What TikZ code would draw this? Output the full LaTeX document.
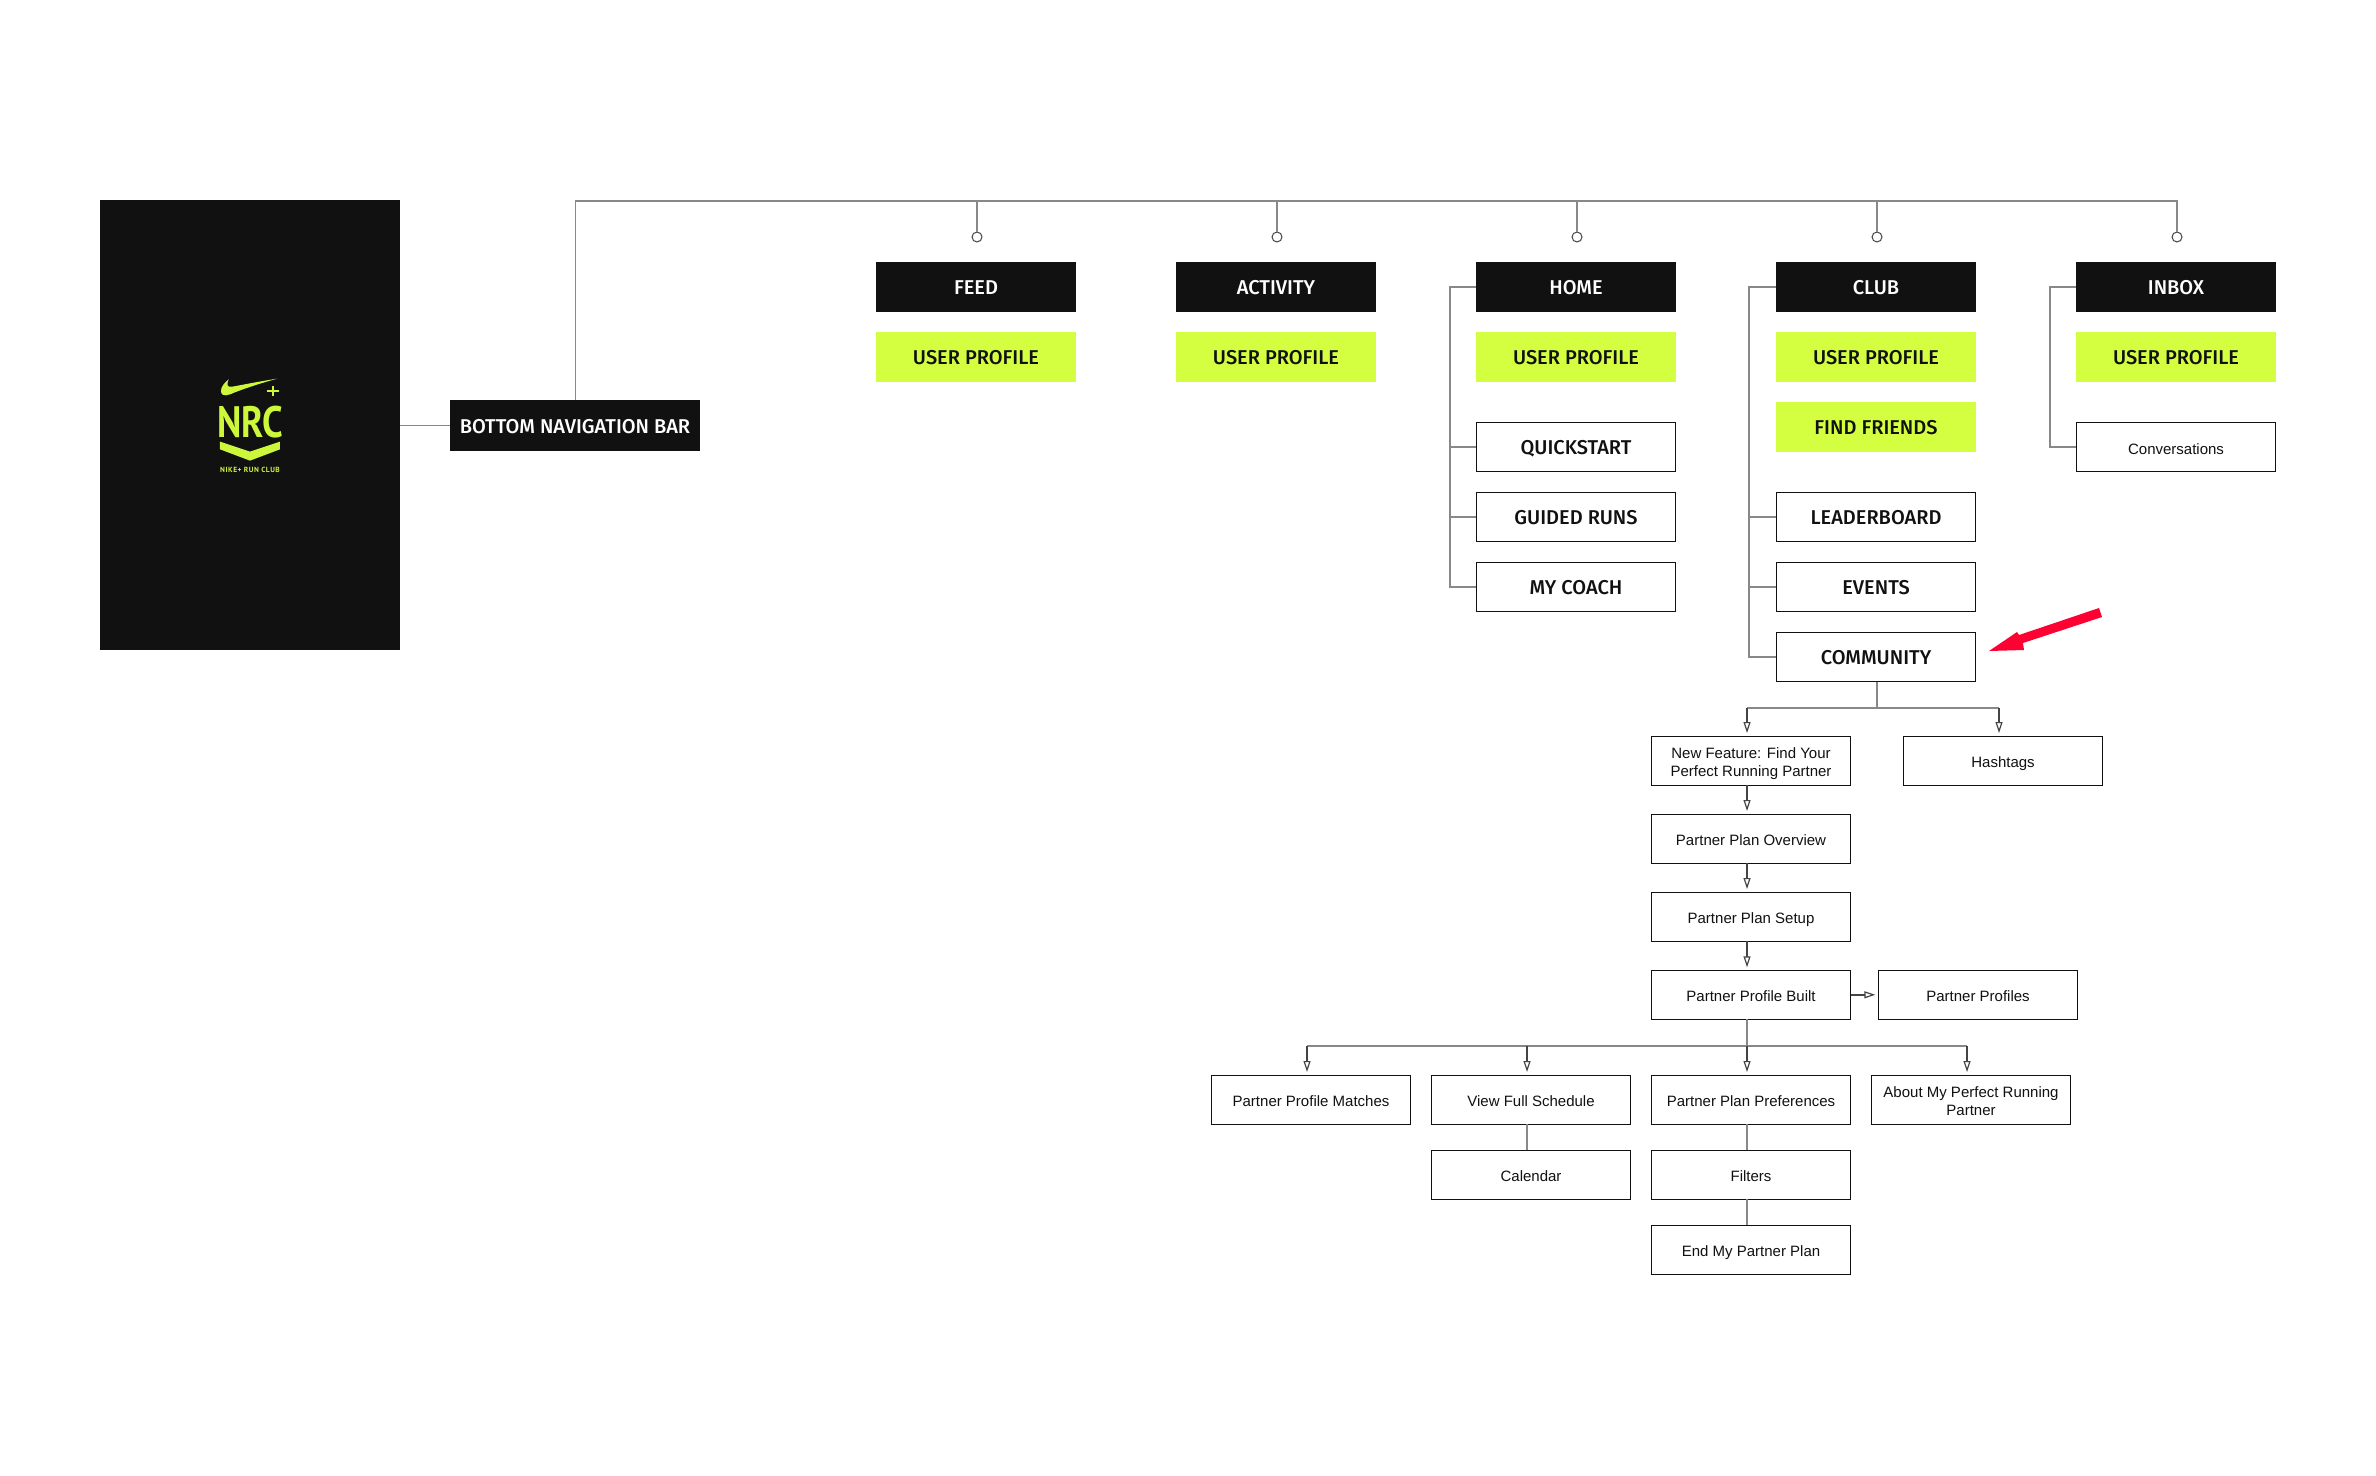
\documentclass[tikz,border=0pt]{standalone}
\usepackage{fontspec}
\setmainfont{Liberation Sans}
\newfontfamily\headfont{Fira Sans Medium}
\newfontfamily\logofont{PT Sans}
\newfontfamily\logosubfont[LetterSpace=7]{PT Sans}
\usetikzlibrary{arrows.meta}
\definecolor{ink}{HTML}{111111}
\definecolor{volt}{HTML}{D4FF41}
\definecolor{logov}{HTML}{CDF73A}
\definecolor{railc}{HTML}{888888}
\definecolor{tipc}{HTML}{444444}
\definecolor{redarrow}{HTML}{FF0033}
\tikzset{
  basebox/.style={minimum width=200pt,minimum height=50pt,inner sep=0pt,outer sep=0pt,align=center},
  headtext/.style={font=\headfont\fontsize{20}{23}\selectfont,text height=15pt,text depth=0pt},
  blackbox/.style={basebox,fill=ink,text=white,headtext},
  voltbox/.style={basebox,fill=volt,text=ink,headtext},
  secbox/.style={basebox,minimum width=199.4pt,minimum height=49pt,draw=ink,line width=0.9pt,fill=white,text=ink,headtext},
  subbox/.style={basebox,minimum width=199.4pt,minimum height=49pt,draw=ink,line width=0.9pt,fill=white,text=ink,font=\fontsize{15}{18}\selectfont,text height=14pt,text depth=0pt},
  subboxtwo/.style={subbox,text height=32pt},
  rail/.style={draw=railc,line width=1.5pt},
  tipline/.style={draw=tipc,line width=1.6pt,shorten >=3pt,-{Triangle[open,length=11pt,width=7pt,line width=1.2pt]}},
  ring/.style={circle,draw=tipc,fill=white,line width=1pt,minimum size=10pt,inner sep=0pt,outer sep=0pt},
}
\begin{document}
\begin{tikzpicture}[x=1pt,y=-1pt]
\useasboundingbox (0,0) rectangle (2376,1475);
% logo panel
\node[fill=ink,minimum width=300pt,minimum height=450pt,inner sep=0pt,outer sep=0pt] (panel) at (250,425) {};
\begin{scope}[shift={(180,350)},x=0.3333pt,y=-0.3333pt]
  \fill[logov] (292,86) .. controls (240,100) and (190,117) .. (165,127)
    .. controls (145,136) and (125,143) .. (123,124)
    .. controls (122,110) and (135,97) .. (146,88)
    .. controls (140,102) and (140,113) .. (157,110)
    .. controls (190,104) and (250,92) .. (292,86) -- cycle;
  \fill[logov] (262,119) rectangle (296,127);
  \fill[logov] (275,107) rectangle (283,139);
  \fill[logov] (120,275) -- (210,305) -- (300,275) -- (300,298) -- (210,332) -- (120,298) -- cycle;
  \node[text=logov,inner sep=0pt,font=\logofont\bfseries\fontsize{44}{44}\selectfont,xscale=0.84] (nrcword) at (210,216) {NRC};
  \node[text=logov,inner sep=0pt,font=\logosubfont\bfseries\fontsize{7.4}{9}\selectfont] (nrcsub) at (210,360) {NIKE+ RUN CLUB};
\end{scope}
% nav bar
\node[blackbox,minimum width=250pt,minimum height=51pt] (nav) at (575,425.5) {BOTTOM NAVIGATION BAR};
% tabs
\node[blackbox] (feed) at (976,287) {FEED};
\node[voltbox] (upfeed) at (976,357) {USER PROFILE};
\node[blackbox] (activity) at (1276,287) {ACTIVITY};
\node[voltbox] (upact) at (1276,357) {USER PROFILE};
\node[blackbox] (home) at (1576,287) {HOME};
\node[voltbox] (uphome) at (1576,357) {USER PROFILE};
\node[secbox] (quick) at (1576,447) {QUICKSTART};
\node[secbox] (guided) at (1576,517) {GUIDED RUNS};
\node[secbox] (coach) at (1576,587) {MY COACH};
\node[blackbox] (club) at (1876,287) {CLUB};
\node[voltbox] (upclub) at (1876,357) {USER PROFILE};
\node[voltbox] (friends) at (1876,427) {FIND FRIENDS};
\node[secbox] (leader) at (1876,517) {LEADERBOARD};
\node[secbox] (events) at (1876,587) {EVENTS};
\node[secbox] (community) at (1876,657) {COMMUNITY};
\node[blackbox] (inbox) at (2176,287) {INBOX};
\node[voltbox] (upinbox) at (2176,357) {USER PROFILE};
\node[subbox] (convers) at (2176,447) {Conversations};
% community subtree
\node[subboxtwo] (newf) at (1751,760.5) {New Feature: Find Your\\Perfect Running Partner};
\node[subbox] (hashtags) at (2003,760.5) {Hashtags};
\node[subbox] (overview) at (1751,838.5) {Partner Plan Overview};
\node[subbox] (setup) at (1751,916.5) {Partner Plan Setup};
\node[subbox] (built) at (1751,994.8) {Partner Profile Built};
\node[subbox] (profiles) at (1978,994.8) {Partner Profiles};
\node[subbox] (matches) at (1311,1099.5) {Partner Profile Matches};
\node[subbox] (schedule) at (1531,1099.5) {View Full Schedule};
\node[subbox] (prefs) at (1751,1099.5) {Partner Plan Preferences};
\node[subboxtwo] (about) at (1971,1099.5) {About My Perfect Running\\Partner};
\node[subbox] (calendar) at (1531,1174.5) {Calendar};
\node[subbox] (filters) at (1751,1174.5) {Filters};
\node[subbox] (endplan) at (1751,1249.5) {End My Partner Plan};
% top bus
\coordinate (busa) at (575.5,201);
\coordinate (busb) at (2177,201);
\node[ring] (rfeed) at (977,237) {};
\node[ring] (ract) at (1277,237) {};
\node[ring] (rhome) at (1577,237) {};
\node[ring] (rclub) at (1877,237) {};
\node[ring] (rinbox) at (2177,237) {};
\draw[rail] (panel.east |- nav.west) -- (nav.west);
\draw[rail] (nav.north -| busa) -- (busa) -- (busb) -- (rinbox.north);
\foreach \r in {rfeed,ract,rhome,rclub} \draw[rail] (\r.north |- busa) -- (\r.north);
% side rails
\coordinate (railh) at (1450,287);
\draw[rail] (home.west) -- (railh) -- (railh |- coach.west) -- (coach.west);
\foreach \n in {quick,guided} \draw[rail] (railh |- \n.west) -- (\n.west);
\coordinate (railc) at (1749,287);
\draw[rail] (club.west) -- (railc) -- (railc |- community.west) -- (community.west);
\foreach \n in {leader,events} \draw[rail] (railc |- \n.west) -- (\n.west);
\coordinate (raili) at (2050,287);
\draw[rail] (inbox.west) -- (raili) -- (raili |- convers.west) -- (convers.west);
% community connectors
\coordinate (ctop) at (1877,708);
\coordinate (cl) at (1747,708);
\coordinate (cr) at (1999,708);
\draw[rail] (ctop |- community.south) -- (ctop);
\draw[rail] (cl) -- (cr);
\draw[tipline] (cl) -- (cl |- newf.north);
\draw[tipline] (cr) -- (cr |- hashtags.north);
\draw[tipline] (cl |- newf.south) -- (cl |- overview.north);
\draw[tipline] (cl |- overview.south) -- (cl |- setup.north);
\draw[tipline] (cl |- setup.south) -- (cl |- built.north);
\draw[tipline] (built.east) -- (profiles.west);
% second bus
\coordinate (b1) at (1307,1046);
\coordinate (b2) at (1527,1046);
\coordinate (b3) at (1747,1046);
\coordinate (b4) at (1967,1046);
\draw[rail] (b1) -- (b4);
\draw[rail] (b3 |- built.south) -- (b3);
\draw[tipline] (b1) -- (b1 |- matches.north);
\draw[tipline] (b2) -- (b2 |- schedule.north);
\draw[tipline] (b3) -- (b3 |- prefs.north);
\draw[tipline] (b4) -- (b4 |- about.north);
\draw[rail] (b2 |- schedule.south) -- (b2 |- calendar.north);
\draw[rail] (b3 |- prefs.south) -- (b3 |- filters.north);
\draw[rail] (b3 |- filters.south) -- (b3 |- endplan.north);
% red arrow
\fill[redarrow] (2099,608) -- (2102,617) -- (2023,643) -- (2024,650) -- (1989,651) -- (2017,632) -- (2019,635) -- cycle;
\end{tikzpicture}
\end{document}
